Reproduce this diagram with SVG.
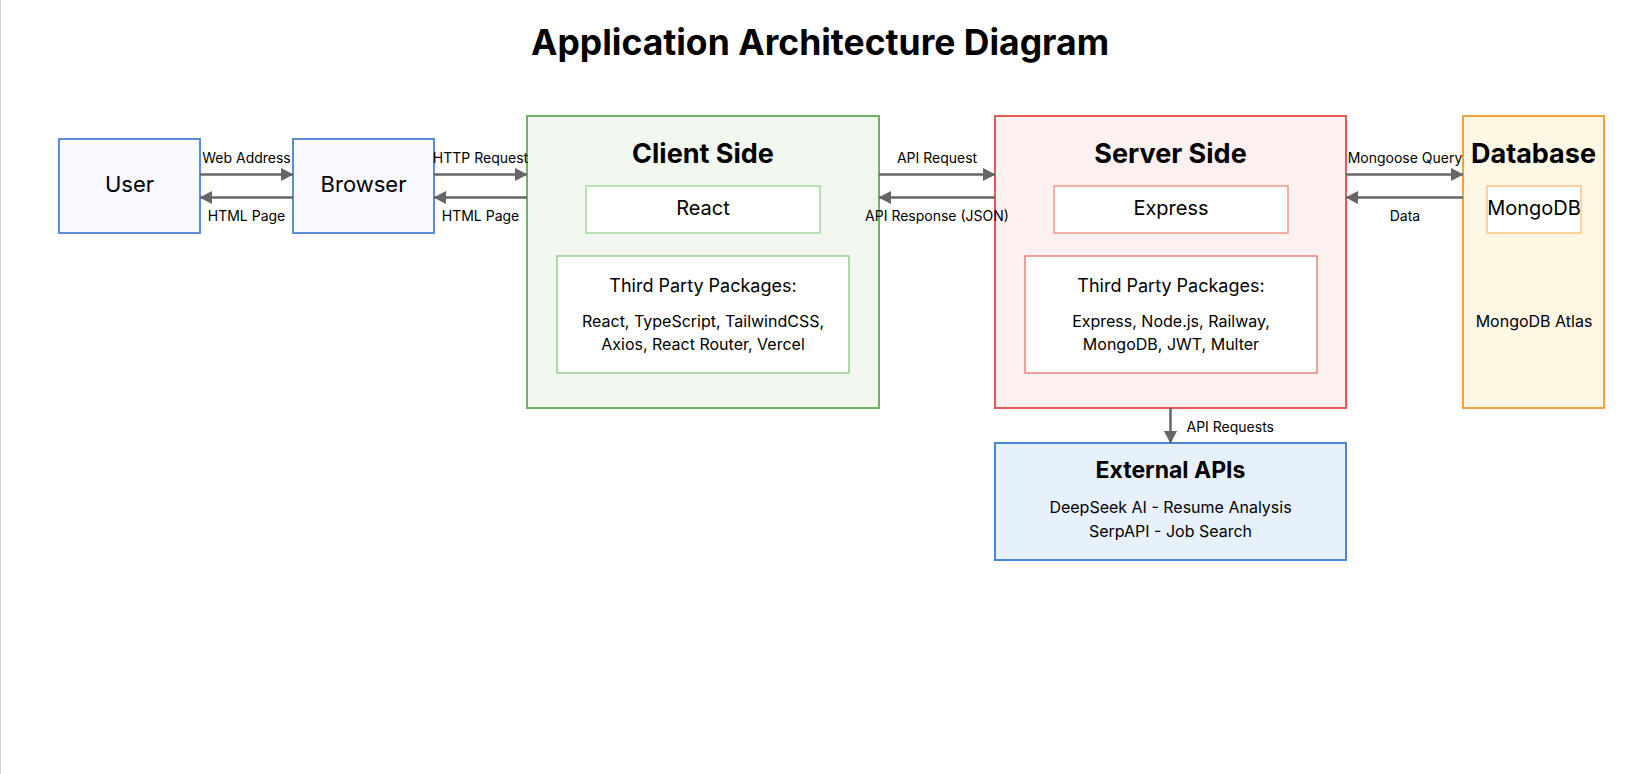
<svg xmlns="http://www.w3.org/2000/svg" width="1636" height="774" viewBox="0 0 1636 774">
<style>
text { font-family: "Inter", "Liberation Sans", sans-serif; fill: #000; text-anchor: middle; }
.title { font-size: 35.5px; font-weight: 700; }
.h { font-size: 27px; font-weight: 700; }
.h2 { font-size: 23px; font-weight: 700; }
.simple { font-size: 22px; }
.inner { font-size: 20px; }
.pk { font-size: 18px; }
.pl { font-size: 16px; }
.lbl { font-size: 14px; }
.conn { stroke: #666; stroke-width: 2.5; fill: none; }
.blue { fill: #f7f9fe; stroke: #5b8dd9; stroke-width: 2; }
</style>
<defs>
<marker id="ah" markerUnits="userSpaceOnUse" markerWidth="13" markerHeight="14" refX="12" refY="6.5" orient="auto">
<path d="M0,0 L12.5,6.5 L0,13 z" fill="#666"/>
</marker>
</defs>
<rect x="0" y="0" width="1636" height="774" fill="#fff"/>
<line x1="0.5" y1="0" x2="0.5" y2="774" stroke="#d4d4d4" stroke-width="1"/>
<text class="title" x="820" y="55">Application Architecture Diagram</text>

<g id="user">
<rect class="blue" x="59" y="139" width="141" height="94"/>
<text class="simple" x="129.5" y="192">User</text>
</g>
<g id="browser">
<rect class="blue" x="293" y="139" width="141" height="94"/>
<text class="simple" x="363.5" y="192">Browser</text>
</g>
<g id="client-side">
<rect x="527" y="116" width="352" height="292" fill="#f2f7f0" stroke="#6db362" stroke-width="2"/>
<text class="h" x="703" y="163">Client Side</text>
<rect x="586" y="186" width="234" height="47" fill="#fff" stroke="#a3d69c" stroke-width="1.5"/>
<text class="inner" x="703" y="215">React</text>
<rect x="557" y="256" width="292" height="117" fill="#fff" stroke="#7fc177" stroke-width="1.2"/>
<text class="pk" x="703" y="292">Third Party Packages:</text>
<text class="pl" x="703" y="327">React, TypeScript, TailwindCSS,</text>
<text class="pl" x="703" y="350">Axios, React Router, Vercel</text>
</g>
<g id="server-side">
<rect x="995" y="116" width="351" height="292" fill="#fdf0f0" stroke="#e85a50" stroke-width="2"/>
<text class="h" x="1170.5" y="163">Server Side</text>
<rect x="1054" y="186" width="234" height="47" fill="#fff" stroke="#f0968c" stroke-width="1.5"/>
<text class="inner" x="1171" y="215">Express</text>
<rect x="1025" y="256" width="292" height="117" fill="#fff" stroke="#e8645a" stroke-width="1.2"/>
<text class="pk" x="1171" y="292">Third Party Packages:</text>
<text class="pl" x="1171" y="327">Express, Node.js, Railway,</text>
<text class="pl" x="1171" y="350">MongoDB, JWT, Multer</text>
</g>
<g id="database">
<rect x="1463" y="116" width="141" height="292" fill="#fef7e4" stroke="#f5a23e" stroke-width="2"/>
<text class="h" x="1533.5" y="163">Database</text>
<rect x="1487" y="186" width="94" height="47" fill="#fff" stroke="#fdc47e" stroke-width="1.5"/>
<text class="inner" x="1534" y="215">MongoDB</text>
<text class="pl" x="1534" y="327">MongoDB Atlas</text>
</g>
<g id="external-apis">
<rect x="995" y="443" width="351" height="117" fill="#e6f1fb" stroke="#4a86d8" stroke-width="2"/>
<text class="h2" x="1170.5" y="478">External APIs</text>
<text class="pl" x="1170.5" y="513">DeepSeek AI - Resume Analysis</text>
<text class="pl" x="1170.5" y="536.5">SerpAPI - Job Search</text>
</g>

<g id="connectors">
<line class="conn" x1="200" y1="174.5" x2="293" y2="174.5" marker-end="url(#ah)"/>
<line class="conn" x1="293" y1="197.5" x2="200" y2="197.5" marker-end="url(#ah)"/>
<line class="conn" x1="434" y1="174.5" x2="527" y2="174.5" marker-end="url(#ah)"/>
<line class="conn" x1="527" y1="197.5" x2="434" y2="197.5" marker-end="url(#ah)"/>
<line class="conn" x1="879" y1="174.5" x2="995" y2="174.5" marker-end="url(#ah)"/>
<line class="conn" x1="995" y1="197.5" x2="879" y2="197.5" marker-end="url(#ah)"/>
<line class="conn" x1="1346" y1="174.5" x2="1463" y2="174.5" marker-end="url(#ah)"/>
<line class="conn" x1="1463" y1="197.5" x2="1346" y2="197.5" marker-end="url(#ah)"/>
<line class="conn" x1="1170.5" y1="408" x2="1170.5" y2="443" marker-end="url(#ah)"/>
<text class="lbl" x="246.5" y="163">Web Address</text>
<text class="lbl" x="246.5" y="221">HTML Page</text>
<text class="lbl" x="480.5" y="163">HTTP Request</text>
<text class="lbl" x="480.5" y="221">HTML Page</text>
<text class="lbl" x="937" y="163">API Request</text>
<text class="lbl" x="937" y="221">API Response (JSON)</text>
<text class="lbl" x="1405" y="163">Mongoose Query</text>
<text class="lbl" x="1405" y="221">Data</text>
<text class="lbl" x="1186.5" y="432" style="text-anchor:start">API Requests</text>
</g>
</svg>
